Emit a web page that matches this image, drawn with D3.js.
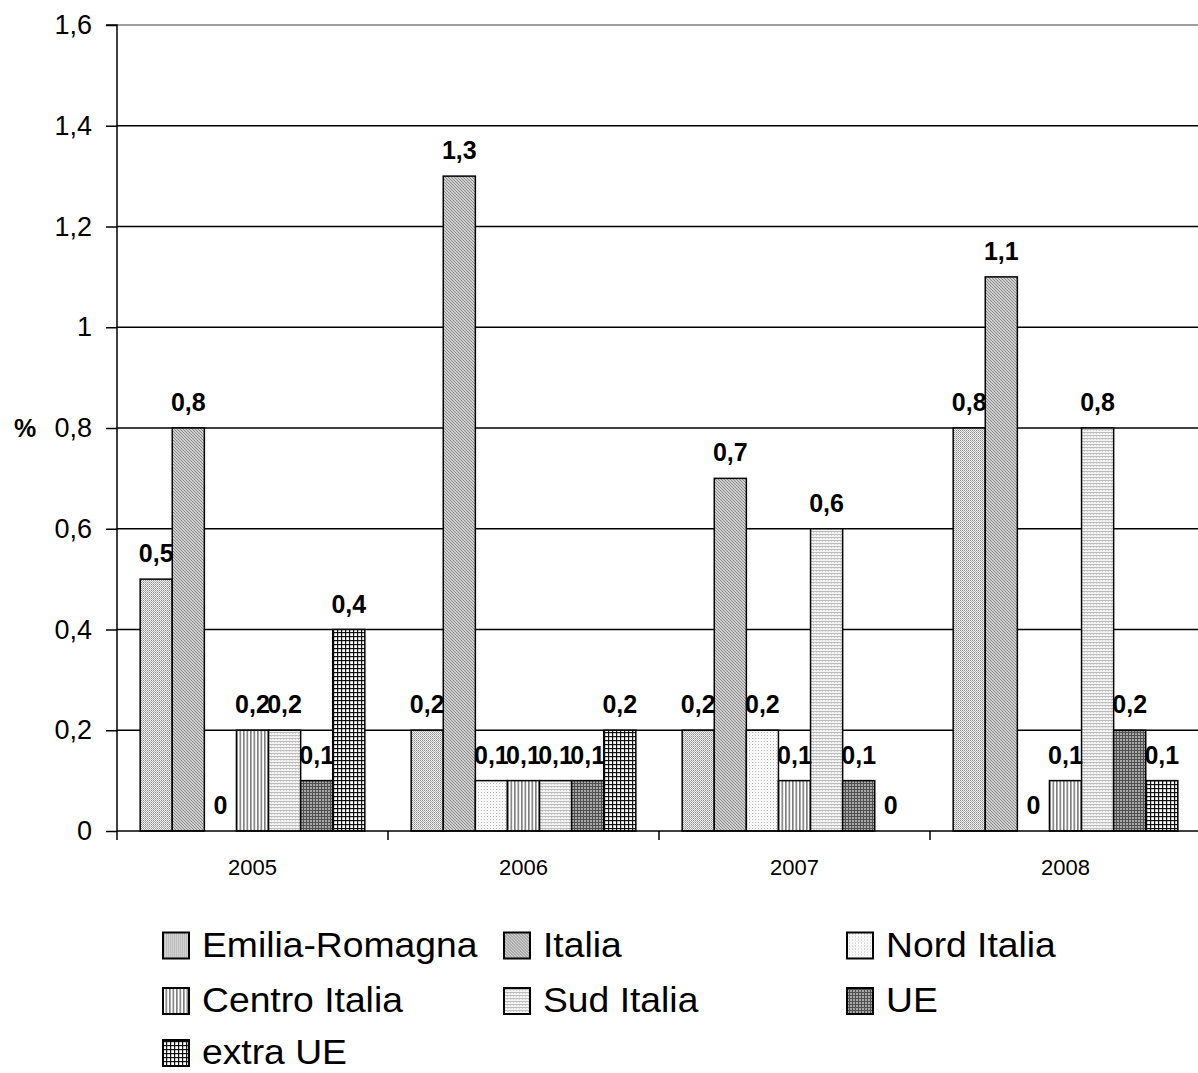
<!DOCTYPE html>
<html>
<head>
<meta charset="utf-8">
<script src="https://cdn.jsdelivr.net/npm/d3@7"></script>
<style>
  html, body { margin: 0; padding: 0; background: #fff; }
  svg { display: block; font-family: Arial, "Liberation Sans", sans-serif; }
</style>
</head>
<body>
<svg id="chart" width="1198" height="1073"></svg>
<script>
// Years on the x axis
const years = ["2005", "2006", "2007", "2008"];
// Series names (legend order)
const seriesNames = ["Emilia-Romagna", "Italia", "Nord Italia", "Centro Italia", "Sud Italia", "UE", "extra UE"];
// Values (%) per series, one per year
const emiliaRomagna = [0.5, 0.2, 0.2, 0.8];
const italia        = [0.8, 1.3, 0.7, 1.1];
const nordItalia    = [0.0, 0.1, 0.2, 0.0];
const centroItalia  = [0.2, 0.1, 0.1, 0.1];
const sudItalia     = [0.2, 0.1, 0.6, 0.8];
const ue            = [0.1, 0.1, 0.1, 0.2];
const extraUe       = [0.4, 0.2, 0.0, 0.1];
// Y tick values and labels
const yTicks = [0, 0.2, 0.4, 0.6, 0.8, 1.0, 1.2, 1.4, 1.6];
const yTickLabels = ["0", "0,2", "0,4", "0,6", "0,8", "1", "1,2", "1,4", "1,6"];

const seriesValues = [emiliaRomagna, italia, nordItalia, centroItalia, sudItalia, ue, extraUe];

const svg = d3.select("#chart");
const defs = svg.append("defs");

// Monochrome fill patterns, one per series
function pattern(id, size, bg, draw) {
  const p = defs.append("pattern").attr("id", id)
    .attr("patternUnits", "userSpaceOnUse").attr("width", size).attr("height", size);
  p.append("rect").attr("width", size).attr("height", size).attr("fill", bg);
  draw(p);
}
// Emilia-Romagna: fine dot checker
pattern("p0", 2, "#f2f2f2", p => {
  p.append("rect").attr("x", 0).attr("y", 0).attr("width", 1).attr("height", 1).attr("fill", "#8c8c8c");
  p.append("rect").attr("x", 1).attr("y", 1).attr("width", 1).attr("height", 1).attr("fill", "#b0b0b0");
});
// Italia: darker fine diagonal weave
pattern("p1", 3, "#cfcfcf", p => {
  p.append("rect").attr("x", 0).attr("y", 0).attr("width", 1).attr("height", 1).attr("fill", "#8a8a8a");
  p.append("rect").attr("x", 1).attr("y", 1).attr("width", 1).attr("height", 1).attr("fill", "#8a8a8a");
  p.append("rect").attr("x", 2).attr("y", 2).attr("width", 1).attr("height", 1).attr("fill", "#8a8a8a");
});
// Nord Italia: sparse light dots
pattern("p2", 3, "#ffffff", p => {
  p.append("rect").attr("x", 0).attr("y", 0).attr("width", 1).attr("height", 1).attr("fill", "#b8b8b8");
  p.append("rect").attr("x", 1.5).attr("y", 1.5).attr("width", 1).attr("height", 1).attr("fill", "#d8d8d8");
});
// Centro Italia: vertical stripes
pattern("p3", 3.5, "#ffffff", p => {
  p.append("rect").attr("x", 0).attr("y", 0).attr("width", 1.6).attr("height", 3.5).attr("fill", "#7c7c7c");
});
// Sud Italia: light horizontal texture
pattern("p4", 3, "#f4f4f4", p => {
  p.append("rect").attr("x", 0).attr("y", 0).attr("width", 3).attr("height", 1).attr("fill", "#bcbcbc");
  p.append("rect").attr("x", 1).attr("y", 1).attr("width", 1).attr("height", 1).attr("fill", "#d0d0d0");
});
// UE: dark fine grid
pattern("p5", 3, "#a8a8a8", p => {
  p.append("rect").attr("x", 0).attr("y", 0).attr("width", 3).attr("height", 1).attr("fill", "#505050");
  p.append("rect").attr("x", 0).attr("y", 0).attr("width", 1).attr("height", 3).attr("fill", "#505050");
});
// extra UE: black grid on white
pattern("p6", 4, "#ffffff", p => {
  p.append("rect").attr("x", 0).attr("y", 0).attr("width", 4).attr("height", 1.2).attr("fill", "#111");
  p.append("rect").attr("x", 0).attr("y", 0).attr("width", 1.2).attr("height", 4).attr("fill", "#111");
});

// Plot geometry
const plotLeft = 117, plotRight = 1201, plotTop = 25, plotBottom = 831;

const x0 = d3.scaleBand().domain(years).range([plotLeft, plotRight]).paddingInner(0).paddingOuter(0);
const groupPad = 0.0855 * x0.bandwidth();
const x1 = d3.scaleBand().domain(d3.range(seriesNames.length))
  .range([groupPad, x0.bandwidth() - groupPad]).padding(0);
const y = d3.scaleLinear().domain([0, 1.6]).range([plotBottom, plotTop]);

// Horizontal gridlines
svg.append("g").selectAll("line").data(yTicks.filter(v => v > 0)).join("line")
  .attr("x1", plotLeft).attr("x2", 1198)
  .attr("y1", d => y(d)).attr("y2", d => y(d))
  .attr("stroke", d => d === 1.6 ? "#808080" : "#000")
  .attr("stroke-width", 1.5);

// Y axis
const yAxis = d3.axisLeft(y).tickValues(yTicks)
  .tickFormat((d, i) => yTickLabels[i]).tickSize(11).tickPadding(14);
const gy = svg.append("g").attr("transform", `translate(${plotLeft},0)`).call(yAxis);
gy.select(".domain").attr("stroke", "#000").attr("stroke-width", 1.5).attr("d", `M-11,${plotTop}H0V${plotBottom}`);
gy.selectAll(".tick line").attr("stroke", "#000").attr("stroke-width", 1.5);
gy.selectAll(".tick text").attr("font-size", 27).attr("fill", "#000")
  .attr("font-family", "Arial, 'Liberation Sans', sans-serif");

// "%" axis label
svg.append("text").attr("x", 25).attr("y", y(0.8)).attr("dy", "0.35em")
  .attr("text-anchor", "middle").attr("font-weight", "bold").attr("font-size", 25).text("%");

// Bars
const groups = svg.append("g").selectAll("g").data(years).join("g")
  .attr("transform", d => `translate(${x0(d)},0)`);

groups.each(function (year, yi) {
  const g = d3.select(this);
  const vals = seriesValues.map((s, si) => ({ si, v: s[yi] }));
  g.selectAll("rect").data(vals.filter(d => d.v > 0)).join("rect")
    .attr("x", d => x1(d.si)).attr("width", x1.bandwidth())
    .attr("y", d => y(d.v)).attr("height", d => y(0) - y(d.v))
    .attr("fill", d => `url(#p${d.si})`)
    .attr("stroke", "#000").attr("stroke-width", 1.5);
  g.selectAll("text.val").data(vals).join("text").attr("class", "val")
    .attr("x", d => x1(d.si) + x1.bandwidth() / 2)
    .attr("y", d => y(d.v) - 17)
    .attr("text-anchor", "middle").attr("font-weight", "bold").attr("font-size", 25)
    .attr("fill", "#000")
    .text(d => String(d.v).replace(".", ","));
});

// X axis
const xAxisLine = svg.append("g");
xAxisLine.append("line").attr("x1", plotLeft).attr("x2", 1198).attr("y1", plotBottom).attr("y2", plotBottom)
  .attr("stroke", "#000").attr("stroke-width", 1.5);
xAxisLine.selectAll("line.tick").data(years.map(d => x0(d)).concat([plotRight])).join("line")
  .attr("class", "tick").attr("x1", d => d).attr("x2", d => d)
  .attr("y1", plotBottom).attr("y2", plotBottom + 9).attr("stroke", "#000").attr("stroke-width", 1.5);
xAxisLine.selectAll("text").data(years).join("text")
  .attr("x", d => x0(d) + x0.bandwidth() / 2).attr("y", 867).attr("dy", "0.35em")
  .attr("text-anchor", "middle").attr("font-size", 22).text(d => d);

// Legend: swatch centres per column / row, text baseline below the swatch centre
const legendCols = [162, 503, 846];
const legendRows = [945.5, 1001, 1053];
const legend = svg.append("g").selectAll("g").data(seriesNames).join("g")
  .attr("transform", (d, i) => `translate(${legendCols[i % 3]},${legendRows[Math.floor(i / 3)]})`);
legend.append("rect").attr("x", 1).attr("y", -13).attr("width", 26).attr("height", 26)
  .attr("fill", (d, i) => `url(#p${i})`).attr("stroke", "#000").attr("stroke-width", 2);
legend.append("text")
  .attr("transform", "translate(40,11) scale(1.065,1)")
  .attr("font-size", 35).text(d => d);
</script>
</body>
</html>
